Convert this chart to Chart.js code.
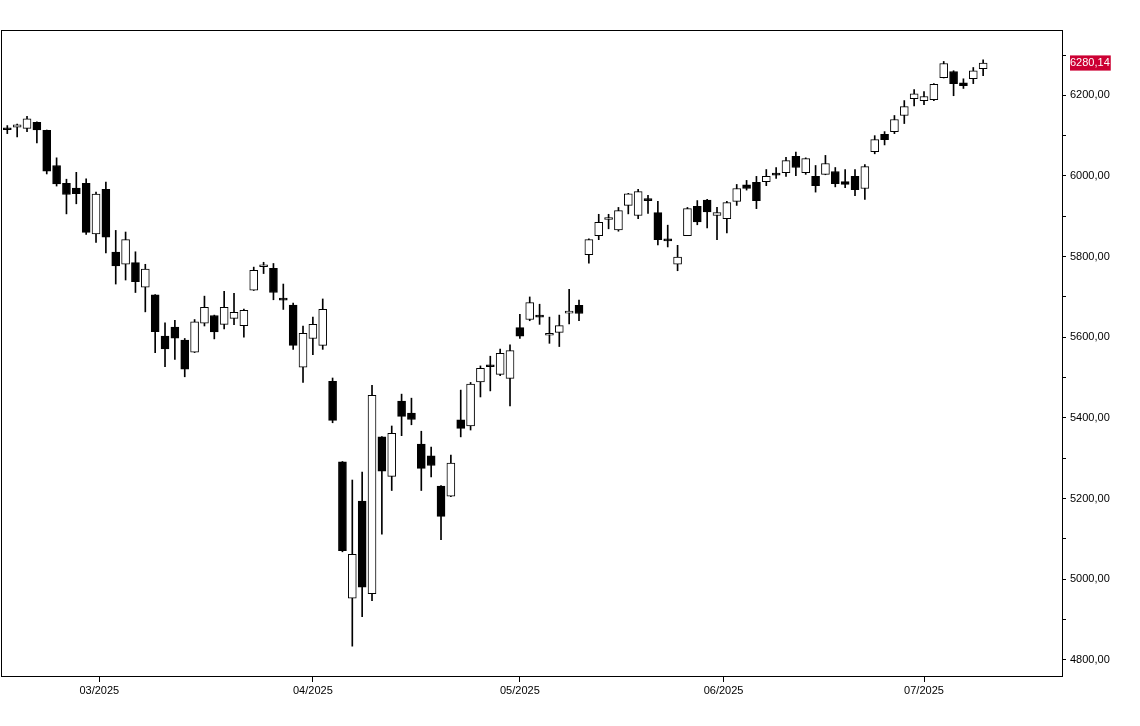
<!DOCTYPE html>
<html>
<head>
<meta charset="utf-8">
<script src="https://cdn.jsdelivr.net/npm/chart.js@4.4.1/dist/chart.umd.min.js"></script>
<style>
  html, body { margin: 0; padding: 0; background: #fff; }
  #wrap { width: 1140px; height: 726px; }
</style>
</head>
<body>
<div id="wrap"><canvas id="mycanvas" width="1140" height="726"></canvas></div>
<script>
// trading days shown on the chart
var dates = [
  '2025-02-14','2025-02-18','2025-02-19','2025-02-20','2025-02-21','2025-02-24','2025-02-25','2025-02-26','2025-02-27','2025-02-28',
  '2025-03-03','2025-03-04','2025-03-05','2025-03-06','2025-03-07','2025-03-10','2025-03-11','2025-03-12','2025-03-13','2025-03-14',
  '2025-03-17','2025-03-18','2025-03-19','2025-03-20','2025-03-21','2025-03-24','2025-03-25','2025-03-26','2025-03-27','2025-03-28',
  '2025-03-31','2025-04-01','2025-04-02','2025-04-03','2025-04-04','2025-04-07','2025-04-08','2025-04-09','2025-04-10','2025-04-11',
  '2025-04-14','2025-04-15','2025-04-16','2025-04-17','2025-04-21','2025-04-22','2025-04-23','2025-04-24','2025-04-25','2025-04-28',
  '2025-04-29','2025-04-30','2025-05-01','2025-05-02','2025-05-05','2025-05-06','2025-05-07','2025-05-08','2025-05-09','2025-05-12',
  '2025-05-13','2025-05-14','2025-05-15','2025-05-16','2025-05-19','2025-05-20','2025-05-21','2025-05-22','2025-05-23','2025-05-27',
  '2025-05-28','2025-05-29','2025-05-30','2025-06-02','2025-06-03','2025-06-04','2025-06-05','2025-06-06','2025-06-09','2025-06-10',
  '2025-06-11','2025-06-12','2025-06-13','2025-06-16','2025-06-17','2025-06-18','2025-06-20','2025-06-23','2025-06-24','2025-06-25',
  '2025-06-26','2025-06-27','2025-06-30','2025-07-01','2025-07-02','2025-07-03','2025-07-07','2025-07-08','2025-07-09','2025-07-10'
];

var opens = [
  6115.5, 6121, 6118, 6133, 6113, 6026, 5982, 5970, 5982, 5856,
  5967, 5811, 5781, 5785, 5724, 5705, 5603, 5625, 5593, 5563,
  5635, 5654, 5632, 5647, 5629, 5717, 5775, 5771, 5694, 5680,
  5526, 5597, 5580, 5491, 5291, 4953, 5194, 4964, 5353, 5255,
  5442, 5412, 5335, 5306, 5231, 5206, 5395, 5380, 5489, 5528,
  5508, 5498, 5624, 5644, 5655, 5605, 5612, 5660, 5679, 5805,
  5852, 5892, 5866, 5927, 5902, 5944, 5909, 5840, 5781, 5852,
  5925, 5940, 5902, 5894, 5937, 5978, 5984, 5986, 6005, 6008,
  6049, 6008, 5999, 6004, 6011, 5986, 5999, 5969, 6060, 6103,
  6110, 6150, 6192, 6187, 6189, 6244, 6259, 6231, 6241, 6266
];
var highs = [
  6125, 6129, 6148, 6134, 6114, 6045, 5992, 6009, 5993, 5960,
  5985, 5865, 5861, 5812, 5781, 5706, 5636, 5642, 5597, 5644,
  5702, 5655, 5714, 5709, 5670, 5774, 5786, 5783, 5732, 5685,
  5628, 5650, 5695, 5499, 5292, 5246, 5266, 5481, 5354, 5380,
  5459, 5449, 5367, 5328, 5232, 5308, 5469, 5488, 5529, 5553,
  5571, 5581, 5657, 5700, 5682, 5650, 5655, 5719, 5692, 5844,
  5905, 5905, 5922, 5957, 5967, 5952, 5937, 5878, 5828, 5922,
  5939, 5942, 5922, 5937, 5979, 5989, 5999, 6016, 6021, 6046,
  6059, 6045, 6026, 6051, 6021, 6016, 6016, 6028, 6100, 6110,
  6150, 6187, 6214, 6209, 6229, 6284, 6261, 6241, 6269, 6288
];
var lows = [
  6105, 6097, 6110, 6082, 6005, 5975, 5906, 5931, 5855, 5835,
  5809, 5732, 5742, 5711, 5663, 5562, 5527, 5545, 5502, 5562,
  5628, 5596, 5621, 5631, 5600, 5716, 5758, 5693, 5669, 5570,
  5488, 5557, 5570, 5388, 5068, 4834, 4907, 4947, 5112, 5220,
  5356, 5383, 5220, 5254, 5098, 5205, 5353, 5370, 5452, 5467,
  5505, 5430, 5597, 5641, 5632, 5585, 5577, 5633, 5641, 5784,
  5842, 5869, 5863, 5906, 5894, 5907, 5829, 5824, 5765, 5852,
  5879, 5871, 5842, 5859, 5927, 5965, 5919, 5976, 5994, 5999,
  6001, 6004, 5960, 6003, 5973, 5971, 5951, 5942, 6055, 6077,
  6105, 6130, 6174, 6177, 6187, 6243, 6199, 6217, 6229, 6249
];
var closes = [
  6114.6, 6127, 6142, 6114, 6012, 5980, 5954, 5956, 5860, 5955,
  5848, 5777, 5842, 5738, 5769, 5614, 5571, 5598, 5521, 5638,
  5674, 5613, 5674, 5662, 5667, 5766, 5776, 5711, 5692, 5580,
  5610, 5632, 5669, 5394, 5071, 5062, 4980, 5456, 5268, 5362,
  5404, 5396, 5275, 5282, 5156, 5288, 5374, 5484, 5523, 5527,
  5560, 5567, 5603, 5686, 5650, 5606, 5629, 5662, 5659, 5842,
  5885, 5894, 5914, 5956, 5961, 5939, 5842, 5839, 5799, 5919,
  5886, 5911, 5909, 5934, 5969, 5969, 5939, 5999, 6002, 6038,
  6021, 6043, 5976, 6031, 5981, 5979, 5966, 6023, 6090, 6090,
  6140, 6172, 6204, 6197, 6227, 6279, 6229, 6224, 6261, 6280.14
];

// axis ticks
var monthStarts = ['2025-03-01', '2025-04-01', '2025-05-01', '2025-06-01', '2025-07-01'];
var monthLabels = ['03/2025', '04/2025', '05/2025', '06/2025', '07/2025'];
var priceTicks = [4800, 4900, 5000, 5100, 5200, 5300, 5400, 5500, 5600, 5700, 5800, 5900, 6000, 6100, 6200, 6300];
var lastClose = closes[closes.length - 1];

function dayNum(s) { return Date.parse(s + 'T00:00:00Z') / 86400000; }

// place a calendar date between the candles around it
function datePos(s) {
  var d = dayNum(s);
  for (var i = 0; i < dates.length - 1; i++) {
    var a = dayNum(dates[i]), b = dayNum(dates[i + 1]);
    if (d >= a && d <= b) return i + (d - a) / (b - a);
  }
  return 0;
}

function fmt(v) { return v.toFixed(2).replace('.', ','); }

var bodies = [], wicks = [], fills = [];
for (var i = 0; i < dates.length; i++) {
  bodies.push({x: i, y: [opens[i], closes[i]]});
  wicks.push({x: i, y: [lows[i], highs[i]]});
  fills.push(closes[i] >= opens[i] ? '#ffffff' : '#000000');
}

// frame around the plot area
var framePlugin = {
  id: 'frame',
  beforeDatasetsDraw: function(chart) {
    var a = chart.chartArea, ctx = chart.ctx;
    ctx.save();
    ctx.strokeStyle = '#000';
    ctx.lineWidth = 1;
    ctx.strokeRect(a.left + 0.5, a.top + 0.5, a.right - a.left, a.bottom - a.top);
    ctx.restore();
  }
};

Chart.defaults.font.family = "'Liberation Sans', Arial, sans-serif";
Chart.defaults.font.size = 11;
Chart.defaults.color = '#000';

var ctx = document.getElementById('mycanvas');

new Chart(ctx, {
  type: 'bar',
  data: {
    datasets: [
      {
        label: 'body',
        data: bodies,
        backgroundColor: fills,
        borderColor: '#000',
        borderWidth: 1,
        borderSkipped: false,
        barThickness: 8,
        minBarLength: 2,
        grouped: false,
        order: 0
      },
      {
        label: 'wick',
        data: wicks,
        backgroundColor: '#000',
        borderWidth: 0,
        barThickness: 1,
        grouped: false,
        order: 1
      }
    ]
  },
  options: {
    responsive: false,
    animation: false,
    layout: { padding: { left: 1, top: 30, right: 0, bottom: 0 } },
    plugins: {
      legend: { display: false },
      tooltip: { enabled: false }
    },
    scales: {
      x: {
        type: 'linear',
        min: -0.64,
        max: 107.0,
        offset: false,
        bounds: 'data',
        border: { display: false },
        grid: { offset: false, drawOnChartArea: false, drawTicks: true, tickLength: 6, tickColor: '#000' },
        afterBuildTicks: function(scale) {
          scale.ticks = monthStarts.map(function(s) { return { value: datePos(s) }; });
        },
        afterFit: function(scale) { scale.height = 50; },
        ticks: {
          autoSkip: false,
          maxRotation: 0,
          padding: 2,
          callback: function(v, i) { return monthLabels[i]; }
        }
      },
      y: {
        type: 'linear',
        position: 'right',
        min: 4760,
        max: 6362,
        bounds: 'data',
        border: { display: false },
        grid: {
          offset: false,
          drawOnChartArea: false,
          drawTicks: true,
          tickLength: 4,
          tickColor: function(c) { return c.tick && c.tick.value === lastClose ? 'rgba(0,0,0,0)' : '#000'; }
        },
        afterBuildTicks: function(scale) {
          var t = priceTicks.map(function(v) { return { value: v }; });
          t.push({ value: lastClose });
          t.sort(function(a, b) { return a.value - b.value; });
          scale.ticks = t;
        },
        afterFit: function(scale) { scale.width = 78; },
        ticks: {
          autoSkip: false,
          padding: 4,
          color: function(c) { return c.tick && c.tick.value === lastClose ? '#ffffff' : '#000000'; },
          showLabelBackdrop: function(c) { return !!(c.tick && c.tick.value === lastClose); },
          backdropColor: '#cc0033',
          backdropPadding: { top: 1, bottom: 1, left: 0, right: 1 },
          callback: function(v) {
            if (v === lastClose || v % 200 === 0) return fmt(v);
            return '';
          }
        }
      }
    }
  },
  plugins: [framePlugin]
});
</script>
</body>
</html>
